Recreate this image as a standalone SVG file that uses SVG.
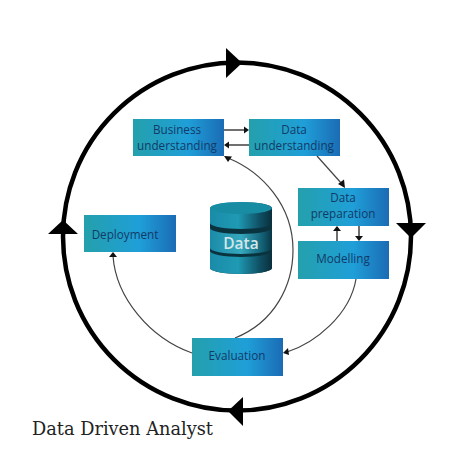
<svg xmlns="http://www.w3.org/2000/svg" width="474" height="474" viewBox="0 0 474 474">
<style>
.box{fill:url(#bx)}
.t{font-family:"Open Sans","Noto Sans",sans-serif;font-size:11.7px;font-weight:500;fill:#123a68;text-anchor:middle}
.c{fill:none;stroke:#444;stroke-width:1.2}
.s{fill:none;stroke:#333;stroke-width:1.4}
.h{fill:#111}
.big{fill:#000}
</style>
<defs>
<linearGradient id="bx" x1="0" x2="1" y1="0" y2="0"><stop offset="0" stop-color="#24a0ac"/><stop offset=".6" stop-color="#1f9fd8"/><stop offset="1" stop-color="#1b6cb4"/></linearGradient>
<linearGradient id="cy" x1="0" x2="1" y1="0" y2="0"><stop offset="0" stop-color="#1a8ba8"/><stop offset=".45" stop-color="#1f9ab4"/><stop offset=".8" stop-color="#0f5064"/><stop offset="1" stop-color="#0a2f3c"/></linearGradient>
<linearGradient id="cm" x1="0" x2="1" y1="0" y2="0"><stop offset="0" stop-color="#1a8ba8"/><stop offset=".5" stop-color="#35a8bd"/><stop offset=".85" stop-color="#125f74"/><stop offset="1" stop-color="#0a3644"/></linearGradient>
</defs>
<rect width="474" height="474" fill="#fff"/>
<g id="connectors">
<circle cx="237" cy="236.500" r="174" fill="none" stroke="#000" stroke-width="4.500"/>
<polygon class="big" points="226,48 242,63 226,78"/>
<polygon class="big" points="396,223 426,223 411,238"/>
<polygon class="big" points="243,397 228,411 243,426"/>
<polygon class="big" points="48,234 78,234 63,220"/>
<path class="s" d="M224 130H246"/><polygon class="h" points="249,130 244,126.500 244,133.500"/>
<path class="s" d="M249 145H227"/><polygon class="h" points="224,145 229,141.500 229,148.500"/>
<path class="c" d="M317 156L342 184"/><polygon class="h" points="345,188 338,184 344,179.500"/>
<path class="s" d="M337 241V231"/><polygon class="h" points="337,226 333,231 341,231"/>
<path class="s" d="M359 226V237"/><polygon class="h" points="359,241 355,236 363,236"/>
<path class="c" d="M356 279C350 315 315 343 287 352"/><polygon class="h" points="283,353 288,348 289,355"/>
<path class="c" d="M235 338C275 322 293 285 293 250C293 205 262 172 228 158"/><polygon class="h" points="224,156 232,156.500 228,162"/>
<path class="c" d="M192 353C150 338 116 298 113 256"/><polygon class="h" points="113,252 109,257 117,257"/>
</g>
<g id="business"><rect class="box" x="133" y="119" width="91" height="37"/><text class="t" x="177" y="134">Business</text><text class="t" x="177" y="150">understanding</text></g>
<g id="data-understanding"><rect class="box" x="249" y="119" width="91" height="37"/><text class="t" x="294" y="134">Data</text><text class="t" x="294" y="150">understanding</text></g>
<g id="data-preparation"><rect class="box" x="298" y="188" width="91" height="38"/><text class="t" x="343" y="202">Data</text><text class="t" x="343" y="218">preparation</text></g>
<g id="modelling"><rect class="box" x="298" y="241" width="91" height="38"/><text class="t" x="343" y="263">Modelling</text></g>
<g id="deployment"><rect class="box" x="84" y="215" width="92" height="37"/><text class="t" x="125" y="239">Deployment</text></g>
<g id="evaluation"><rect class="box" x="192" y="338" width="91" height="38"/><text class="t" x="237" y="360">Evaluation</text></g>
<g id="data">
<path d="M210 208V268A31 6 0 0 0 272 268V208Z" fill="#0a3340"/>
<path d="M210 251A31 6 0 0 0 272 251V268A31 6 0 0 1 210 268Z" fill="url(#cy)"/>
<path d="M210 228A31 6 0 0 0 272 228V248A31 6 0 0 1 210 248Z" fill="url(#cm)"/>
<path d="M210 208A31 6 0 0 1 272 208V223A31 6 0 0 1 210 223Z" fill="url(#cy)"/>
<ellipse cx="241" cy="208" rx="31" ry="6" fill="#188ca2"/>
<text x="241" y="249" font-family="'Open Sans','Noto Sans',sans-serif" font-size="15.500" font-weight="600" fill="#d4e6ea" text-anchor="middle">Data</text>
</g>
<text x="32" y="435" font-family="'DejaVu Serif',serif" font-size="19" fill="#222" textLength="181" lengthAdjust="spacingAndGlyphs">Data Driven Analyst</text>
</svg>
